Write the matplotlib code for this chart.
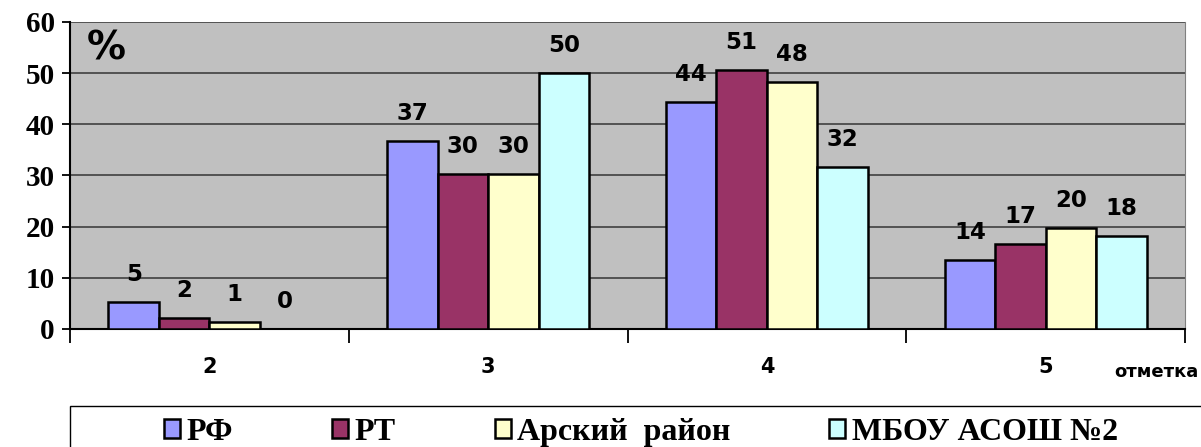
import numpy as np
import matplotlib.pyplot as plt
from matplotlib.patches import Rectangle

# data
grades = ["2", "3", "4", "5"]
series = ["РФ", "РТ", "Арский  район", "МБОУ АСОШ №2"]
rf = [5.2, 36.7, 44.3, 13.5]
rt = [2.1, 30.3, 50.6, 16.6]
arsk = [1.4, 30.3, 48.2, 19.7]
school = [0, 50, 31.6, 18.2]
labels = [[5, 37, 44, 14], [2, 30, 51, 17], [1, 30, 48, 20], [0, 50, 32, 18]]
colors = ["#9999FF", "#993366", "#FFFFCC", "#CCFFFF"]

fig = plt.figure(figsize=(12.01, 4.47), dpi=100)
ax = fig.add_axes([0.0583, 0.264, 0.9284, 0.6868])
ax.set_facecolor("#C0C0C0")

x = np.arange(len(grades))
w = 0.181
for i, vals in enumerate([rf, rt, arsk, school]):
    b = ax.bar(x + (i - 1.5) * w, vals, w, color=colors[i], edgecolor="black",
               linewidth=1.8, label=series[i], zorder=3)
    for rect, lab in zip(b, labels[i]):
        ax.annotate(str(lab), (rect.get_x() + rect.get_width() / 2, rect.get_height()),
                    xytext=(0, 20), textcoords="offset points", ha="center", va="center",
                    fontsize=16.5, fontweight="bold", zorder=4)

ax.set_xlim(-0.5, 3.5)
ax.set_ylim(0, 60)
ax.set_yticks(range(0, 61, 10))
ax.set_yticklabels([str(v) for v in range(0, 61, 10)], family="Liberation Serif",
                   fontweight="bold", fontsize=21)
ax.yaxis.grid(True, color="#4a4a4a", linewidth=1.3, zorder=1)
ax.tick_params(axis="y", length=6, width=1.3, pad=5)

# ticks between categories, labels at centres
ax.set_xticks(np.arange(-0.5, 3.6, 1))
ax.set_xticklabels([])
ax.set_xticks(x, minor=True)
ax.set_xticklabels(grades, minor=True, fontsize=15, fontweight="bold")
ax.tick_params(axis="x", which="major", length=10, width=1.3, direction="out")
ax.tick_params(axis="x", which="minor", length=0, pad=20)

ax.spines["top"].set_visible(False)
ax.spines["right"].set_color("#808080")
ax.spines["left"].set_linewidth(1.5)
ax.spines["bottom"].set_linewidth(1.5)

ax.text(0.015, 0.915, "%", transform=ax.transAxes, fontsize=28, fontweight="bold",
        va="center", ha="left")
fig.text(0.998, 0.168, "отметка", fontsize=13, fontweight="bold", ha="right", va="center")

# legend box
fig.patches.append(Rectangle((0.0583, -0.05), 1.0, 0.142, transform=fig.transFigure,
                             facecolor="white", edgecolor="black", linewidth=1.0))
fig.legend(loc="center left", bbox_to_anchor=(0.1235, 0.033), ncol=4, frameon=False,
           prop={"family": "Liberation Serif", "weight": "bold", "size": 23},
           handlelength=0.5, handleheight=0.5, handletextpad=0.2, columnspacing=3.1,
           borderpad=0)

fig.savefig("out.png", dpi=100)
